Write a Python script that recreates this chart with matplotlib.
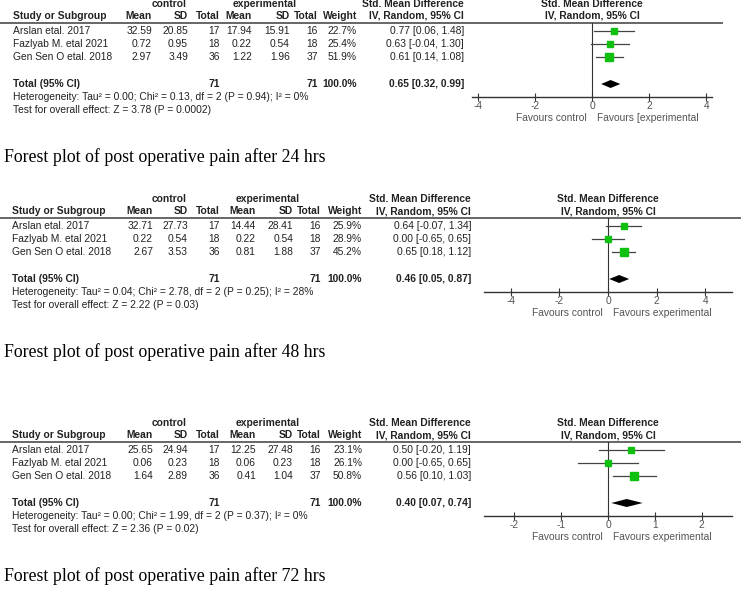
import numpy as np
import matplotlib
matplotlib.use("Agg")
import matplotlib.pyplot as plt

plt.rcParams['font.family'] = ['Liberation Sans', 'DejaVu Sans']
plt.rcParams['axes.unicode_minus'] = False

# === Dane ===
studies = ["Arslan etal. 2017", "Fazlyab M. etal 2021", "Gen Sen O etal. 2018"]

titles = ["Forest plot of post operative pain after 24 hrs",
          "Forest plot of post operative pain after 48 hrs",
          "Forest plot of post operative pain after 72 hrs"]

ctrl_mean = [[32.59, 0.72, 2.97], [32.71, 0.22, 2.67], [25.65, 0.06, 1.64]]
ctrl_sd = [[20.85, 0.95, 3.49], [27.73, 0.54, 3.53], [24.94, 0.23, 2.89]]
ctrl_n = [[17, 18, 36], [17, 18, 36], [17, 18, 36]]
exp_mean = [[17.94, 0.22, 1.22], [14.44, 0.22, 0.81], [12.25, 0.06, 0.41]]
exp_sd = [[15.91, 0.54, 1.96], [28.41, 0.54, 1.88], [27.48, 0.23, 1.04]]
exp_n = [[16, 18, 37], [16, 18, 37], [16, 18, 37]]
weight = [[22.7, 25.4, 51.9], [25.9, 28.9, 45.2], [23.1, 26.1, 50.8]]
smd = [[0.77, 0.63, 0.61], [0.64, 0.00, 0.65], [0.50, 0.00, 0.56]]
smd_lo = [[0.06, -0.04, 0.14], [-0.07, -0.65, 0.18], [-0.20, -0.65, 0.10]]
smd_hi = [[1.48, 1.30, 1.08], [1.34, 0.65, 1.12], [1.19, 0.65, 1.03]]
tot_n = [(71, 71), (71, 71), (71, 71)]
tot_smd = [(0.65, 0.32, 0.99), (0.46, 0.05, 0.87), (0.40, 0.07, 0.74)]
heterog = ["Heterogeneity: Tau² = 0.00; Chi² = 0.13, df = 2 (P = 0.94); I² = 0%",
           "Heterogeneity: Tau² = 0.04; Chi² = 2.78, df = 2 (P = 0.25); I² = 28%",
           "Heterogeneity: Tau² = 0.00; Chi² = 1.99, df = 2 (P = 0.37); I² = 0%"]
overall = ["Test for overall effect: Z = 3.78 (P = 0.0002)",
           "Test for overall effect: Z = 2.22 (P = 0.03)",
           "Test for overall effect: Z = 2.36 (P = 0.02)"]
fav_right = ["Favours [experimental", "Favours experimental", "Favours experimental"]
xticks = [[-4, -2, 0, 2, 4], [-4, -2, 0, 2, 4], [-2, -1, 0, 1, 2]]
xlims = [(-4.2, 4.2), (-5.1, 5.1), (-2.65, 2.65)]

# === Układ (piksele) ===
W, H = 743, 590
tops = [4, 199, 423]
title_y = [157, 352, 576]
ax_px = [(472, 712, 592), (484, 732, 608), (484, 732, 608)]
line_end = [722, 740, 740]
cols = [[13, 152, 188, 220, 252, 290, 318, 357, 464],
        [12, 153, 188, 220, 256, 293, 321, 362, 471],
        [12, 153, 188, 220, 256, 293, 321, 362, 471]]

TXT = '#222222'
GRAY = '#555555'
GREEN = '#10c010'
fs = 7.4

fig = plt.figure(figsize=(W / 100, H / 100), dpi=100)
bg = fig.add_axes([0, 0, 1, 1])
bg.set_xlim(0, W)
bg.set_ylim(H, 0)
bg.axis('off')


def t(x, y, s, ha='left', bold=False, color=TXT, size=fs, **kw):
    bg.text(x, y, s, ha=ha, va='center', fontsize=size, color=color,
            fontweight='bold' if bold else 'normal', **kw)


for p in range(3):
    y0 = tops[p]
    c = cols[p]
    xl, xr, x0 = ax_px[p]
    y_study = y0 + 12
    y_line = y0 + 19
    rows = [y0 + 27, y0 + 40, y0 + 53]
    y_tot = y0 + 80
    y_het = y0 + 93
    y_test = y0 + 106
    y_axis = y0 + 93

    # naglowki
    t(c[2] - 19, y0, "control", ha='center', bold=True)
    t(c[5] - 25, y0, "experimental", ha='center', bold=True)
    t(c[8], y0, "Std. Mean Difference", ha='right', bold=True)
    t(x0, y0, "Std. Mean Difference", ha='center', bold=True)
    t(c[0], y_study, "Study or Subgroup", bold=True)
    for xx, s in zip(c[1:], ["Mean", "SD", "Total", "Mean", "SD", "Total", "Weight",
                             "IV, Random, 95% CI"]):
        t(xx, y_study, s, ha='right', bold=True)
    t(x0, y_study, "IV, Random, 95% CI", ha='center', bold=True)
    bg.plot([0, line_end[p]], [y_line, y_line], color='#666666', lw=1.4)

    # wiersze
    for i, y in enumerate(rows):
        t(c[0], y, studies[i])
        vals = [f"{ctrl_mean[p][i]:.2f}", f"{ctrl_sd[p][i]:.2f}", f"{ctrl_n[p][i]}",
                f"{exp_mean[p][i]:.2f}", f"{exp_sd[p][i]:.2f}", f"{exp_n[p][i]}",
                f"{weight[p][i]:.1f}%",
                f"{smd[p][i]:.2f} [{smd_lo[p][i]:.2f}, {smd_hi[p][i]:.2f}]"]
        for xx, s in zip(c[1:], vals):
            t(xx, y, s, ha='right')

    e, lo, hi = tot_smd[p]
    t(c[0], y_tot, "Total (95% CI)", bold=True)
    t(c[3], y_tot, str(tot_n[p][0]), ha='right', bold=True)
    t(c[6], y_tot, str(tot_n[p][1]), ha='right', bold=True)
    t(c[7], y_tot, "100.0%", ha='right', bold=True)
    t(c[8], y_tot, f"{e:.2f} [{lo:.2f}, {hi:.2f}]", ha='right', bold=True)
    t(c[0], y_het, heterog[p])
    t(c[0], y_test, overall[p])

    # forest plot
    ax = fig.add_axes([xl / W, 1 - y_axis / H, (xr - xl) / W, (y_axis - y_line) / H])
    ax.set_xlim(*xlims[p])
    ax.set_ylim(y_axis, y_line)
    ax.patch.set_visible(False)
    for s in ['left', 'right', 'top']:
        ax.spines[s].set_visible(False)
    ax.spines['bottom'].set_color('#333333')
    ax.spines['bottom'].set_linewidth(1.0)
    ax.set_yticks([])
    ax.set_xticks(xticks[p])
    ax.set_xticklabels([str(v) for v in xticks[p]])
    ax.tick_params(axis='x', direction='inout', length=6, width=0.8, colors='#333333',
                   labelcolor=GRAY, labelsize=fs, pad=0)
    ax.axvline(0, color='#333333', lw=0.8)
    for i, y in enumerate(rows):
        ax.plot([smd_lo[p][i], smd_hi[p][i]], [y, y], color='#444444', lw=0.9, clip_on=False)
        ax.plot(smd[p][i], y, 's', color=GREEN, mec=GREEN,
                ms=1.05 * np.sqrt(weight[p][i]) * 0.72, clip_on=False)
    ax.fill([lo, e, hi, e], [y_tot, y_tot - 4, y_tot, y_tot + 4], color='black', lw=0,
            clip_on=False)

    t(x0 - 5, y0 + 114, "Favours control", ha='right', color=GRAY)
    t(x0 + 5, y0 + 114, fav_right[p], ha='left', color=GRAY)

    bg.text(4, title_y[p], titles[p], ha='left', va='center', fontsize=12.8,
            family='Liberation Serif', color='black')

fig.savefig("out.png", dpi=100, facecolor='white')
